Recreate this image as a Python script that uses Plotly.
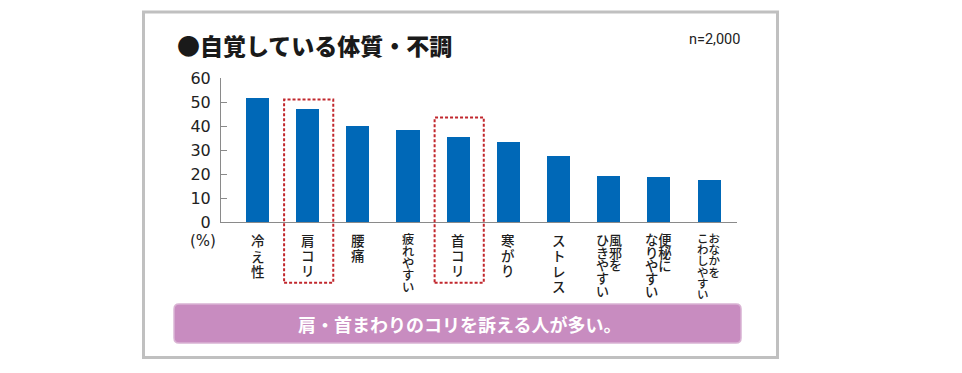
import plotly.graph_objects as go

# ---------------- data ----------------
categories = ["冷え性", "肩コリ", "腰痛", "疲れやすい", "首コリ", "寒がり", "ストレス",
              "風邪をひきやすい", "便秘になりやすい", "おなかをこわしやすい"]
# vertical label columns, read right-to-left
label_columns = [["冷え性"], ["肩コリ"], ["腰痛"], ["疲れやすい"], ["首コリ"], ["寒がり"],
                 ["ストレス"], ["風邪を", "ひきやすい"], ["便秘に", "なりやすい"],
                 ["おなかを", "こわしやすい"]]
values = [51.5, 47.0, 39.9, 38.2, 35.3, 33.3, 27.4, 19.0, 18.6, 17.4]
y_ticks = [0, 10, 20, 30, 40, 50, 60]
highlight = ["肩コリ", "首コリ"]
title_text = "●自覚している体質・不調"
n_text = "n=2,000"
unit_text = "(%)"
banner_text = "肩・首まわりのコリを訴える人が多い。"

# ---------------- styles ----------------
label_pitch = [15.5, 15, 15, 12, 15, 15, 15.4, 12.7, 13, 11.2]
highlight_top = [51.0, 43.5]
BAR = "#0068b7"
JP = "Noto Sans CJK JP"
NUM = "DejaVu Sans"
AX = "#8a8a8a"
YMAX = 60

x = list(range(len(categories)))

fig = go.Figure(go.Bar(x=x, y=values, marker=dict(color=BAR, line=dict(width=0)),
                       width=0.46, hoverinfo="skip"))

annotations = []
# vertical category labels
for i, cols in enumerate(label_columns):
    n_rows = max(len(c) for c in cols)
    glyph = min(13.5, label_pitch[i] + 0.3)
    rows = []
    for r in range(n_rows):
        s = ""
        for c in reversed(cols):  # left column first
            s += c[r] if r < len(c) else ""
        rows.append(f'<span style="font-size:{glyph}px">' + s + '</span>')
    annotations.append(dict(
        x=i, xref="x", y=0, yref="paper", yanchor="top", xanchor="center",
        yshift=-6, text="<br>".join(rows), showarrow=False,
        align="left",
        font=dict(family=JP, size=label_pitch[i] / 1.3, color="#1e1e1e", weight=500)))

annotations += [
    dict(x=0, xref="paper", xshift=-3, xanchor="right", y=0, yref="paper", yshift=-8,
         yanchor="top", text=unit_text, showarrow=False,
         font=dict(family=NUM, size=15, color="#222")),
    dict(x=0, xref="paper", xshift=-46, xanchor="left", y=1, yref="paper", yshift=33,
         yanchor="middle", text=title_text, showarrow=False,
         font=dict(family=JP, size=23, color="#1a1a1a", weight=900)),
    dict(x=1.0097, xref="paper", xanchor="right", y=1.2639, yref="paper",
         yanchor="middle", text=n_text, showarrow=False,
         font=dict(family="Roboto", size=14.5, color="#222")),
    dict(x=0.462, xref="paper", xanchor="center", y=-0.7049, yref="paper",
         yanchor="middle", text=banner_text, showarrow=False,
         font=dict(family=JP, size=18, color="white", weight=700)),
]

shapes = []
# outer frame
shapes.append(dict(type="rect", xref="paper", yref="paper", x0=-0.1502, x1=1.0785,
                   y0=-0.941, y1=1.4583, line=dict(color="#c0c0c0", width=3),
                   fillcolor="rgba(0,0,0,0)", layer="below"))
# banner (rounded)
bx0, bx1, by0, by1 = -0.091, 1.0078, -0.840, -0.569
rx, ry = 5 / 516, 5 / 144
path = (f"M {bx0+rx},{by0} L {bx1-rx},{by0} Q {bx1},{by0} {bx1},{by0+ry} "
        f"L {bx1},{by1-ry} Q {bx1},{by1} {bx1-rx},{by1} L {bx0+rx},{by1} "
        f"Q {bx0},{by1} {bx0},{by1-ry} L {bx0},{by0+ry} Q {bx0},{by0} {bx0+rx},{by0} Z")
shapes.append(dict(type="path", xref="paper", yref="paper", path=path,
                   fillcolor="#c88cc0", line=dict(color="#d9b3d3", width=1.5)))
# highlight boxes
for h, top in zip(highlight, highlight_top):
    idx = categories.index(h)
    shapes.append(dict(type="rect", xref="x", yref="paper", x0=idx - 0.47, x1=idx + 0.51,
                       y0=-0.4215, y1=top / YMAX,
                       line=dict(color="#c1272d", width=2, dash="3px,2px"),
                       fillcolor="rgba(0,0,0,0)"))

# the page body adds an 8px offset, so the figure is drawn 8px smaller/shifted
fig.update_layout(
    width=954, height=365,
    margin=dict(l=213, r=225, t=70, b=151, pad=0),
    paper_bgcolor="white", plot_bgcolor="white",
    showlegend=False, bargap=0,
    annotations=annotations, shapes=shapes,
    xaxis=dict(range=[-0.7275, 9.557], showline=True, linecolor=AX, linewidth=1,
               showticklabels=False, ticks="", showgrid=False, zeroline=False,
               fixedrange=True),
    yaxis=dict(range=[0, YMAX], tickvals=y_ticks, ticks="inside", ticklen=6,
               tickcolor=AX, showline=True, linecolor=AX, linewidth=1,
               showgrid=False, zeroline=False, ticklabelstandoff=6,
               tickfont=dict(family=NUM, size=16, color="#222"), fixedrange=True),
)

fig.write_html("out.html")
